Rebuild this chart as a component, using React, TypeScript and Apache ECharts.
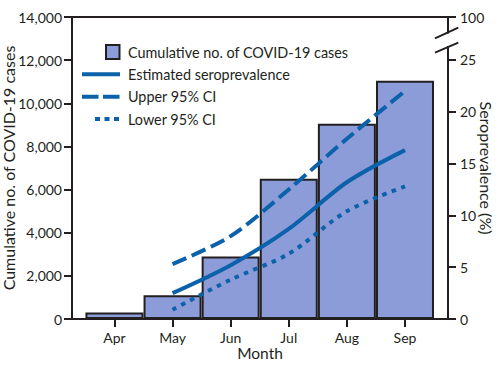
import React, { useEffect, useRef } from "react";
import * as echarts from "echarts";

const months = ["Apr", "May", "Jun", "Jul", "Aug", "Sep"];
const cumulativeCases = [300, 1100, 2900, 6500, 9050, 11050];
// seroprevalence lines start in May (index 1)
const seroMonthIdx = [1, 2, 3, 4, 5];
const estimated = [2.5, 5.2, 8.7, 13.2, 16.3];
const upperCI = [5.3, 8.0, 12.5, 17.4, 22.0];
const lowerCI = [0.9, 3.8, 6.3, 10.4, 12.8];
const leftTicks = [0, 2000, 4000, 6000, 8000, 10000, 12000, 14000];
const rightTicks = [0, 5, 10, 15, 20, 25];
const rightTopLabel = "100";

const legendNames = [
  "Cumulative no. of COVID-19 cases",
  "Estimated seroprevalence",
  "Upper 95% CI",
  "Lower 95% CI",
];

const INK = "#231f20";
const BAR = "#8c9cd8";
const LINE = "#0b62ab";
const FONT = "Lato, 'DejaVu Sans', sans-serif";

export default function App() {
  const ref = useRef<HTMLDivElement>(null);
  useEffect(() => {
    if (!ref.current) return;
    const chart = echarts.init(ref.current, undefined, { renderer: "svg" });
    const rightMax = 29.15;
    const pair = (ys: number[]) => ys.map((v, i) => [seroMonthIdx[i], v]);
    const lineSeries = (name: string, ys: number[], type: any) => ({
      name,
      type: "line",
      xAxisIndex: 0,
      yAxisIndex: 1,
      data: pair(ys),
      smooth: 0.3,
      symbol: "none",
      lineStyle: { color: LINE, width: 4, type, cap: "butt" },
      z: 5,
    });
    const legendY = [52, 74.3, 96.7, 119];
    const graphic: any[] = [
      // axis break
      { type: "rect", shape: { x: 443, y: 33.5, width: 9, height: 12.5 }, style: { fill: "#fff" }, z: 100 },
      { type: "line", shape: { x1: 435, y1: 38.3, x2: 458.3, y2: 27.7 }, style: { stroke: INK, lineWidth: 2 }, z: 101 },
      { type: "line", shape: { x1: 435, y1: 52.7, x2: 458.3, y2: 42.7 }, style: { stroke: INK, lineWidth: 2 }, z: 101 },
      // legend
      { type: "rect", shape: { x: 106, y: 45, width: 13.5, height: 14 }, style: { fill: BAR, stroke: INK, lineWidth: 2 }, z: 100 },
      { type: "line", shape: { x1: 82, y1: legendY[1], x2: 120, y2: legendY[1] }, style: { stroke: LINE, lineWidth: 4 }, z: 100 },
      { type: "line", shape: { x1: 82, y1: legendY[2], x2: 120, y2: legendY[2] }, style: { stroke: LINE, lineWidth: 4, lineDash: [16.5, 4.5] }, z: 100 },
      { type: "line", shape: { x1: 95, y1: legendY[3], x2: 120, y2: legendY[3] }, style: { stroke: LINE, lineWidth: 4, lineDash: [5, 4.5] }, z: 100 },
      ...legendNames.map((t, i) => ({
        type: "text",
        x: 128,
        y: legendY[i],
        style: { text: t, fill: INK, font: `14.4px ${FONT}`, textVerticalAlign: "middle", textAlign: "left" },
        z: 100,
      })),
    ];
    chart.setOption({
      animation: false,
      textStyle: { fontFamily: FONT, color: INK },
      grid: {
        left: 72,
        right: 53,
        top: 17,
        bottom: 50,
        containLabel: false,
        outerBoundsMode: "none",
        show: true,
        borderColor: INK,
        borderWidth: 2,
        backgroundColor: "transparent",
      },
      xAxis: {
        type: "value",
        min: -0.73,
        max: 5.74,
        name: "Month",
        nameLocation: "middle",
        nameGap: 26,
        nameMoveOverlap: false,
        nameTextStyle: { fontSize: 15.5, color: INK, fontFamily: FONT },
        axisLine: { show: true, onZero: false, lineStyle: { color: INK, width: 2 } },
        axisTick: { show: true, length: 8, lineStyle: { color: INK, width: 2 }, customValues: months.map((_, i) => i) },
        axisLabel: {
          customValues: months.map((_, i) => i),
          formatter: (v: number) => months[Math.round(v)] ?? "",
          fontSize: 14,
          color: INK,
          margin: 11,
          fontFamily: FONT,
        },
        splitLine: { show: false },
      },
      yAxis: [
        {
          type: "value",
          position: "left",
          min: 0,
          max: leftTicks[leftTicks.length - 1],
          interval: 2000,
          name: "Cumulative no. of COVID-19 cases",
          nameLocation: "middle",
          nameGap: 56,
          nameMoveOverlap: false,
          nameTextStyle: { fontSize: 16, color: INK, fontFamily: FONT },
          axisLine: { show: true, onZero: false, lineStyle: { color: INK, width: 2 } },
          axisTick: { show: true, length: 8, lineStyle: { color: INK, width: 2 } },
          axisLabel: { fontSize: 14, color: INK, margin: 10, fontFamily: FONT },
          splitLine: { show: false },
        },
        {
          type: "value",
          position: "right",
          min: 0,
          max: rightMax,
          interval: 5,
          name: "Seroprevalence (%)",
          nameLocation: "middle",
          nameRotate: -90,
          nameGap: 30,
          nameMoveOverlap: false,
          nameTextStyle: { fontSize: 16, color: INK, fontFamily: FONT },
          axisLine: { show: true, onZero: false, lineStyle: { color: INK, width: 2 } },
          axisTick: { show: true, length: 8, lineStyle: { color: INK, width: 2 } },
          axisLabel: {
            fontSize: 14,
            color: INK,
            margin: 12,
            fontFamily: FONT,
            formatter: (v: number) => (v > rightTicks[rightTicks.length - 1] + 1 ? rightTopLabel : String(v)),
          },
          splitLine: { show: false },
        },
      ],
      graphic,
      series: [
        {
          name: legendNames[0],
          type: "bar",
          xAxisIndex: 0,
          yAxisIndex: 0,
          data: cumulativeCases.map((v, i) => [i, v]),
          barWidth: 58,
          itemStyle: { color: BAR, borderColor: INK, borderWidth: 2 },
          z: 2,
        },
        lineSeries(legendNames[1], estimated, "solid"),
        lineSeries(legendNames[2], upperCI, [15, 6]),
        lineSeries(legendNames[3], lowerCI, [4.5, 5.5]),
      ],
    });
    return () => chart.dispose();
  }, []);
  return <div ref={ref} style={{ width: 501, height: 369, position: "absolute", left: 0, top: 0 }} />;
}
